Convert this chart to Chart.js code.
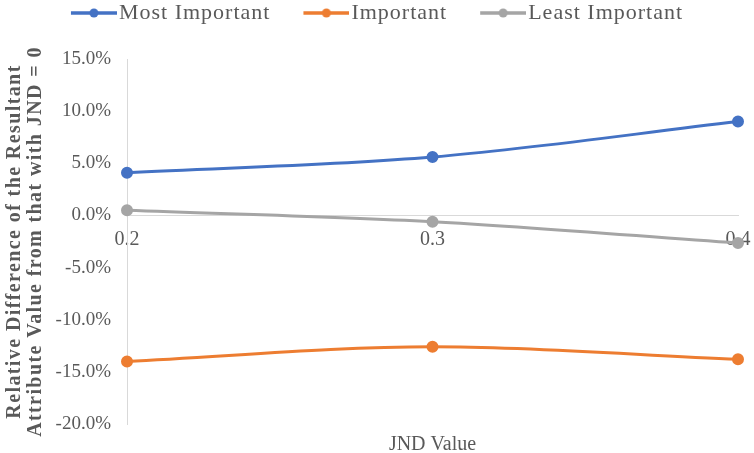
<!DOCTYPE html>
<html>
<head>
<meta charset="utf-8">
<script src="https://cdn.jsdelivr.net/npm/chart.js@4.4.1/dist/chart.umd.min.js"></script>
<style>
  html, body { margin: 0; padding: 0; background: #fff; }
  #wrap { width: 754px; height: 453px; }
</style>
</head>
<body>
<div id="wrap"><canvas id="grafico"></canvas></div>
<script>
const jndValues = [0.2, 0.3, 0.4];
const mostImportant = [4.1, 5.6, 9.0];
const important = [-14.0, -12.6, -13.8];
const leastImportant = [0.5, -0.6, -2.65];
const xTicks = [0.2, 0.3, 0.4];
const yTicks = [-20, -15, -10, -5, 0, 5, 10, 15];

const serif = "'Liberation Serif', 'Times New Roman', serif";
const tickColor = "#595959";

function toPoints(valores) {
  return jndValues.map((x, i) => ({ x: x, y: valores[i] }));
}

// "line with a dot" icon, wider than the box so the line sits close to the text
function iconoLeyenda(color) {
  const c = document.createElement("canvas");
  c.width = 86;
  c.height = 12;
  const ctx = c.getContext("2d");
  ctx.strokeStyle = color;
  ctx.lineWidth = 3.5;
  ctx.beginPath();
  ctx.moveTo(40, 6);
  ctx.lineTo(86, 6);
  ctx.stroke();
  ctx.fillStyle = color;
  ctx.beginPath();
  ctx.arc(63, 6, 4.5, 0, Math.PI * 2);
  ctx.fill();
  return c;
}

function serie(label, valores, color) {
  return {
    label: label,
    data: toPoints(valores),
    borderColor: color,
    backgroundColor: color,
    borderWidth: 3,
    pointRadius: 4.5,
    pointHoverRadius: 4.5,
    tension: 0.4,
    cubicInterpolationMode: "monotone",
    clip: false,
  };
}

const datasets = [
  serie("Most Important", mostImportant, "#4472C4"),
  serie("Important", important, "#ED7D31"),
  serie("Least Important", leastImportant, "#A5A5A5"),
];

// spacing of letters as in the picture, and a fixed legend height
const ajustes = {
  id: "ajustes",
  beforeInit(chart) {
    const leg = chart.legend;
    const fit = leg.fit;
    const draw = leg.draw;
    leg.fit = function () {
      chart.ctx.letterSpacing = "1px";
      fit.call(this);
      chart.ctx.letterSpacing = "0px";
      this.height = 59;
    };
    leg.draw = function () {
      const ctx = chart.ctx;
      ctx.save();
      ctx.translate(-9, 0);
      ctx.letterSpacing = "1px";
      draw.call(this);
      ctx.restore();
      ctx.letterSpacing = "0px";
    };
  },
  afterLayout(chart) {
    const y = chart.scales.y;
    if (y && !y._espaciado) {
      const drawTitle = y.drawTitle;
      y.drawTitle = function () {
        this.ctx.letterSpacing = "1.4px";
        drawTitle.call(this);
        this.ctx.letterSpacing = "0px";
      };
      y._espaciado = true;
    }
  },
};

const config = {
  type: "line",
  data: { datasets },
  plugins: [ajustes],
  options: {
    responsive: true,
    maintainAspectRatio: false,
    animation: false,
    layout: { padding: { left: 3, right: 16, top: 0, bottom: 0 } },
    plugins: {
      tooltip: { enabled: false },
      legend: {
        position: "top",
        labels: {
          font: { family: serif, size: 22 },
          color: "#595959",
          usePointStyle: true,
          pointStyleWidth: 68,
          padding: 2,
          generateLabels: (chart) =>
            chart.data.datasets.map((ds, i) => ({
              text: ds.label,
              fillStyle: ds.borderColor,
              strokeStyle: ds.borderColor,
              fontColor: "#595959",
              pointStyle: iconoLeyenda(ds.borderColor),
              datasetIndex: i,
              hidden: false,
            })),
        },
      },
    },
    scales: {
      x: {
        type: "linear",
        position: { y: 0 },
        min: 0.2,
        max: 0.4,
        afterBuildTicks: (axis) => {
          axis.ticks = xTicks.map((v) => ({ value: v }));
        },
        afterFit: (axis) => {
          axis.paddingLeft = 0;
          axis.paddingRight = 0;
          axis.height = 0;
        },
        grid: { display: false, drawTicks: false },
        border: { display: true, color: "#d9d9d9", width: 1 },
        ticks: {
          color: tickColor,
          font: { family: serif, size: 20 },
          padding: 12,
          callback: (v) => Number(v).toFixed(1),
        },
      },
      x2: {
        type: "linear",
        position: "bottom",
        min: 0.2,
        max: 0.4,
        afterFit: (axis) => {
          axis.height = 29;
        },
        grid: { display: false, drawTicks: false },
        border: { display: false },
        ticks: { display: false },
        title: {
          display: true,
          text: "JND Value",
          color: tickColor,
          font: { family: serif, size: 20, lineHeight: 1.0 },
          padding: { top: 0, bottom: -2 },
        },
      },
      y: {
        type: "linear",
        min: -20,
        max: 15,
        afterBuildTicks: (axis) => {
          axis.ticks = yTicks.map((v) => ({ value: v }));
        },
        afterFit: (axis) => {
          axis.width = 124;
        },
        grid: { display: false, drawTicks: false },
        border: { display: true, color: "#d9d9d9", width: 1 },
        ticks: {
          color: tickColor,
          font: { family: serif, size: 19 },
          padding: 16,
          callback: (v) => Number(v).toFixed(1) + "%",
        },
        title: {
          display: true,
          text: [
            "Relative Difference of the Resultant",
            "Attribute Value from that with JND = 0",
          ],
          color: "#595959",
          font: { family: serif, size: 20, weight: "bold", lineHeight: 1.05 },
          padding: { top: 1, bottom: 0 },
        },
      },
    },
  },
};

new Chart(document.getElementById("grafico"), config);
</script>
</body>
</html>
